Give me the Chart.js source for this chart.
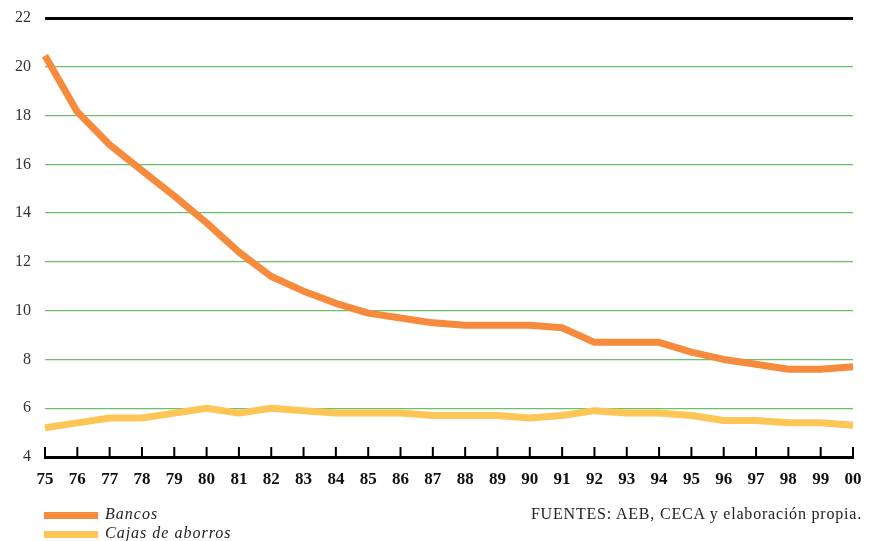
<!DOCTYPE html>
<html>
<head>
<meta charset="utf-8">
<script src="https://cdn.jsdelivr.net/npm/chart.js@4.4.1/dist/chart.umd.min.js"></script>
<style>
  html, body { margin: 0; padding: 0; background: #fff; }
  #wrap { position: relative; width: 869px; height: 541px; }
  canvas { position: absolute; left: 0; top: 0; }
  .leg { position: absolute; font-family: "Liberation Serif", "DejaVu Serif", serif; font-style: italic; font-size: 16px; letter-spacing: 1px; color: #222; line-height: 16px; }
  .sw { position: absolute; width: 54px; height: 7px; }
  #src { position: absolute; right: 7px; top: 506px; font-family: "Liberation Serif", "DejaVu Serif", serif; font-size: 16px; letter-spacing: 0.8px; color: #222; line-height: 16px; }
</style>
</head>
<body>
<div id="wrap">
  <canvas id="c" width="869" height="541"></canvas>
  <div class="sw" style="left:44px;top:512px;background:#F68B3D"></div>
  <div class="leg" style="left:105px;top:506px">Bancos</div>
  <div class="sw" style="left:44px;top:531px;background:#FEC657"></div>
  <div class="leg" style="left:105px;top:525px">Cajas de aborros</div>
  <div id="src">FUENTES: AEB, CECA y elaboración propia.</div>
</div>
<script>
const years = ["75","76","77","78","79","80","81","82","83","84","85","86","87","88","89","90","91","92","93","94","95","96","97","98","99","00"];
const bancos = [20.45,18.15,16.8,15.75,14.7,13.6,12.4,11.4,10.8,10.3,9.9,9.7,9.5,9.4,9.4,9.4,9.3,8.7,8.7,8.7,8.3,8.0,7.8,7.6,7.6,7.7];
const cajas = [5.2,5.4,5.6,5.6,5.8,6.0,5.8,6.0,5.9,5.8,5.8,5.8,5.7,5.7,5.7,5.6,5.7,5.9,5.8,5.8,5.7,5.5,5.5,5.4,5.4,5.3];
const yTicks = [4,6,8,10,12,14,16,18,20,22];

const innerTicks = {
  id: 'innerTicks',
  afterDatasetsDraw(chart) {
    const x = chart.scales.x, ctx = chart.ctx, bottom = chart.chartArea.bottom;
    ctx.save();
    ctx.strokeStyle = '#000';
    ctx.lineWidth = 2;
    years.forEach((y, i) => {
      const px = x.getPixelForValue(i);
      ctx.beginPath();
      ctx.moveTo(px, bottom);
      ctx.lineTo(px, bottom - 10);
      ctx.stroke();
    });
    ctx.restore();
  }
};

new Chart(document.getElementById('c'), {
  type: 'line',
  data: {
    labels: years,
    datasets: [
      { label: 'Cajas de aborros', data: cajas, borderColor: '#FEC657', borderWidth: 7, pointRadius: 0, tension: 0, borderJoinStyle: 'round', borderCapStyle: 'butt' },
      { label: 'Bancos', data: bancos, borderColor: '#F68B3D', borderWidth: 7, pointRadius: 0, tension: 0, borderJoinStyle: 'round', borderCapStyle: 'butt' }
    ]
  },
  options: {
    responsive: false,
    animation: false,
    devicePixelRatio: 1,
    layout: { padding: { left: 0, right: 16, top: 18, bottom: 54 } },
    plugins: { legend: { display: false }, tooltip: { enabled: false } },
    scales: {
      x: {
        type: 'category',
        offset: false,
        grid: { display: false },
        border: { display: true, color: '#000', width: 3 },
        ticks: { color: '#111', font: { family: 'Liberation Serif', size: 17, weight: 'bold' }, padding: 4, maxRotation: 0, autoSkip: false },
        afterFit(s) { s.height = 30; }
      },
      y: {
        min: 4, max: 22,
        afterBuildTicks(s) { s.ticks = yTicks.map(v => ({ value: v })); },
        grid: {
          drawTicks: true,
          tickLength: 14,
          tickColor: 'rgba(0,0,0,0)',
          color: c => (c.tick.value === 22 || c.tick.value === 4) ? '#000' : '#6CC06C',
          lineWidth: c => (c.tick.value === 22 || c.tick.value === 4) ? 3 : 1.3
        },
        border: { display: false },
        ticks: { color: '#333', font: { family: 'Liberation Serif', size: 16 }, padding: 0 },
        afterFit(s) { s.width = 45; }
      }
    }
  },
  plugins: [innerTicks]
});
</script>
</body>
</html>
